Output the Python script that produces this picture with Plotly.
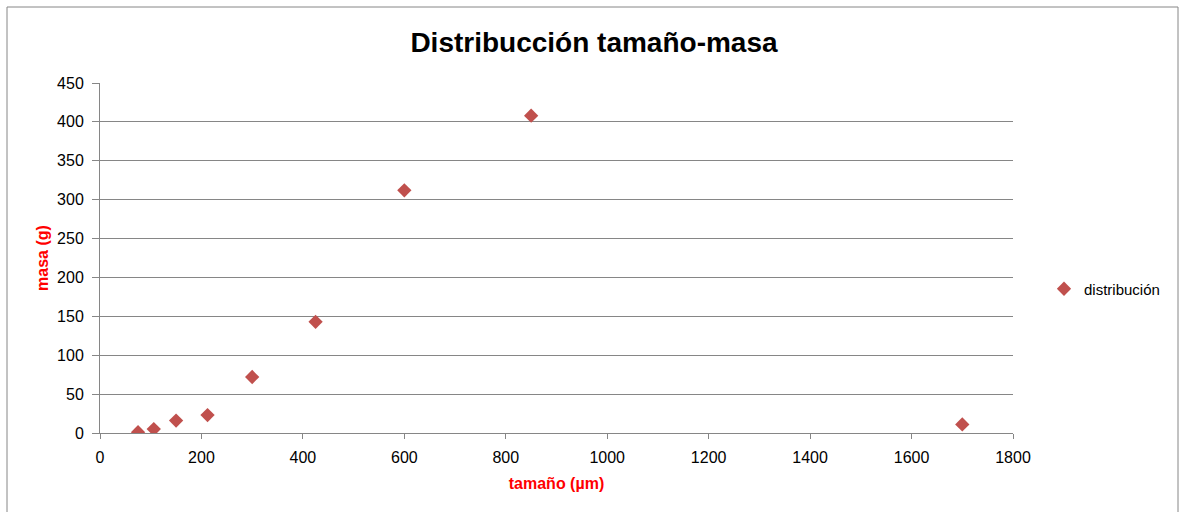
import plotly.graph_objects as go

tamano = [75, 106, 150, 212, 300, 425, 600, 850, 1700]
masa = [1, 5, 16, 23, 72, 143, 312, 408, 11]

W, H = 1179, 512
L, R, T, B = 100, 166, 83, 79
pw, ph = W - L - R, H - T - B

fig = go.Figure()
fig.add_trace(go.Scatter(
    x=tamano, y=masa, mode="markers", name="distribución",
    marker=dict(symbol="diamond", size=11, color="#C0504D",
                line=dict(width=0)),
))

font = "Liberation Sans, Arial, sans-serif"
fig.update_layout(
    width=W, height=H,
    margin=dict(l=L, r=R, t=T, b=B, autoexpand=False),
    paper_bgcolor="white", plot_bgcolor="white",
    font=dict(family=font, size=15, color="#000000"),
    title=dict(text="<b>Distribucción tamaño-masa</b>", x=(594 - L) / pw, xref="paper",
               xanchor="center", y=1 - 42 / H, yanchor="middle",
               font=dict(size=28, color="#000000")),
    showlegend=True,
    legend=dict(x=(1044 - L) / pw, y=1 - (289 - T) / ph, xanchor="left", yanchor="middle",
                font=dict(size=15), bgcolor="rgba(0,0,0,0)", itemwidth=30),
    xaxis=dict(range=[0, 1800], tickvals=list(range(0, 1801, 200)),
               showgrid=False, zeroline=False, showline=True, linecolor="#868686",
               linewidth=1, ticks="outside", ticklen=5, tickcolor="#868686",
               tickfont=dict(size=16), ticklabelstandoff=5,
               title=dict(text="<b>tamaño (µm)</b>", font=dict(size=16, color="#FF0000"),
                          standoff=12)),
    yaxis=dict(range=[0, 450], tickvals=list(range(0, 451, 50)),
               showgrid=True, gridcolor="#868686", gridwidth=1,
               zeroline=False, showline=True, linecolor="#868686", linewidth=1,
               ticks="outside", ticklen=7, tickcolor="#868686",
               tickfont=dict(size=16), ticklabelstandoff=5,
               title=dict(text="<b>masa (g)</b>", font=dict(size=16, color="#FF0000"),
                          standoff=4)),
)

# outer chart border
fig.add_shape(type="rect", xref="paper", yref="paper",
              x0=(7 - L) / pw, x1=(1178 - L) / pw,
              y0=-(H - T - ph + 10) / ph, y1=1 + (T - 7) / ph,
              line=dict(color="#868686", width=1), fillcolor="rgba(0,0,0,0)", layer="below")

fig.write_html("out.html")
